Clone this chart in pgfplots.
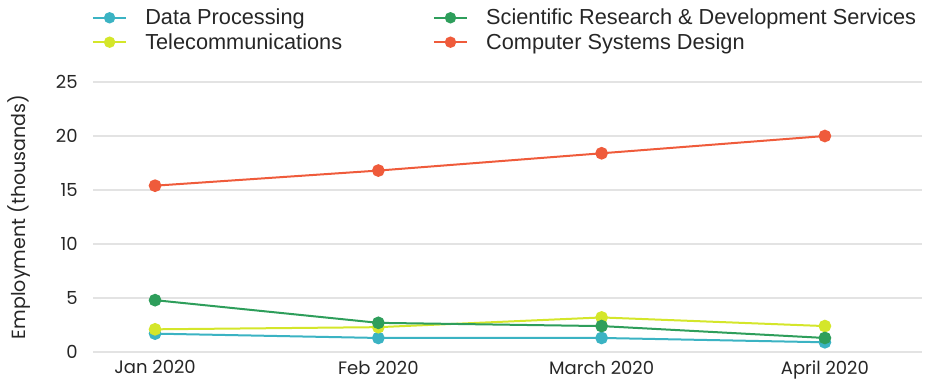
\documentclass[border=0pt]{standalone}
\usepackage{fontspec}
\setmainfont{Liberation Sans}
\newfontfamily\tickfont{Poppins}
\usepackage{pgfplots}
\pgfplotsset{compat=1.18}

\definecolor{dataproc}{HTML}{3BB3C3}
\definecolor{telecom}{HTML}{D4E62A}
\definecolor{scires}{HTML}{2E9E5B}
\definecolor{compsys}{HTML}{EF5B3B}

\begin{document}
\begin{tikzpicture}
\begin{axis}[
    name=ax,
    scale only axis,
    width=621.75pt, height=202.5pt,
    xmin=-0.278, xmax=3.435,
    ymin=0, ymax=25,
    xtick={0,1,2,3},
    xticklabels={Jan 2020, Feb 2020, March 2020, April 2020},
    ytick={0,5,10,15,20,25},
    axis line style={draw=none},
    major tick length=0pt,
    ymajorgrids,
    grid style={gray!22, line width=0.8pt},
    tick label style={font=\tickfont\fontsize{13.5}{15}\selectfont, text=black!85},
    yticklabel style={xshift=-8pt},
    xticklabel style={yshift=-3pt},
    /pgf/number format/assume math mode=true,
    ylabel={Employment (thousands)},
    ylabel style={font=\tickfont\fontsize{14.3}{16}\selectfont, text=black!85,
        at={(axis description cs:-0.0893,0.5)}, anchor=center},
    legend columns=2,
    transpose legend,
    legend style={at={(0,1)}, anchor=south west, yshift=22pt, xshift=-1pt,
        draw=none, fill=none, inner sep=0pt,
        font=\fontsize{16.3}{18}\selectfont, text=black!85,
        row sep=3pt,
        nodes={inner xsep=0pt, inner ysep=1pt},
        /tikz/every odd column/.append style={column sep=13.5pt},
        /tikz/every even column/.append style={column sep=68pt}},
    legend cell align=left,
    legend image code/.code={
        \draw[mark repeat=2, mark phase=2, mark size=3.5pt, line width=1.5pt]
            plot coordinates {(0pt,0pt) (12.5pt,0pt) (25pt,0pt)};},
    every axis plot/.append style={line width=1.5pt, mark=*, mark size=4pt},
]
\addplot[color=dataproc] coordinates {(0,1.7) (1,1.3) (2,1.3) (3,0.9)};
\addlegendentry{Data Processing}
\addplot[color=telecom] coordinates {(0,2.1) (1,2.3) (2,3.2) (3,2.4)};
\addlegendentry{Telecommunications}
\addplot[color=scires] coordinates {(0,4.8) (1,2.7) (2,2.4) (3,1.3)};
\addlegendentry{Scientific Research \& Development Services}
\addplot[color=compsys] coordinates {(0,15.4) (1,16.8) (2,18.4) (3,20.0)};
\addlegendentry{Computer Systems Design}
\end{axis}
\pgfresetboundingbox
\path ([xshift=-69.75pt,yshift=-20.25pt]ax.south west)
    rectangle ([xshift=4.5pt,yshift=61.5pt]ax.north east);
\end{tikzpicture}
\end{document}
